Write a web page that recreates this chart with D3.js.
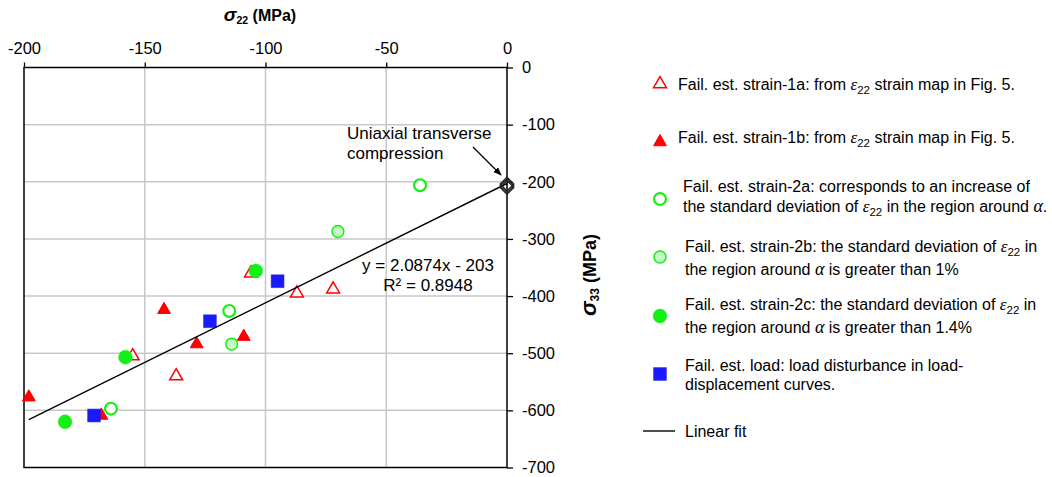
<!DOCTYPE html>
<html>
<head>
<meta charset="utf-8">
<script src="https://cdn.jsdelivr.net/npm/d3@7"></script>
<style>
  body { margin: 0; background: #fff; }
  svg text { font-family: "Liberation Sans", Arial, sans-serif; fill: #000; }
</style>
</head>
<body>
<svg id="chart" width="1052" height="477"></svg>
<script>
// data: [sigma22, sigma33] in MPa
const strain1a = [[-155, -505], [-137, -540], [-106, -360], [-87, -395], [-72, -388]];
const strain1b = [[-198, -577], [-142, -424], [-128.5, -484], [-109, -471], [-168, -609]];
const strain2a = [[-115, -426], [-164, -597], [-36, -206]];
const strain2b = [[-114, -484], [-70, -287]];
const strain2c = [[-183, -620], [-158, -507], [-104, -356]];
const loadPts = [[-171, -609], [-123, -444], [-95, -374]];
const uniaxial = [[0, -204], [0, -207], [0, -210]];
const fitSlope = 2.0874, fitIntercept = -203;
const fitRange = [-198, 0];
const xTicks = [-200, -150, -100, -50, 0];
const yTicks = [0, -100, -200, -300, -400, -500, -600, -700];
const seriesNames = [
  "Fail. est. strain-1a", "Fail. est. strain-1b", "Fail. est. strain-2a",
  "Fail. est. strain-2b", "Fail. est. strain-2c", "Fail. est. load", "Linear fit"
];

const svg = d3.select("#chart");
const x = d3.scaleLinear().domain([-200, 0]).range([24, 507]);
const y = d3.scaleLinear().domain([0, -700]).range([67.5, 467.5]);

const RED = "#ff0000", GREEN = "#14f014", LGREEN = "#c8f8c8", BLUE = "#1a1aff";

// grid
svg.append("g").selectAll("line").data(xTicks.slice(1, -1)).join("line")
  .attr("x1", d => x(d)).attr("x2", d => x(d)).attr("y1", y(0)).attr("y2", y(-700))
  .attr("stroke", "#c8c8c8").attr("stroke-width", 1.5);
svg.append("g").selectAll("line").data(yTicks.slice(1, -1)).join("line")
  .attr("x1", x(-200)).attr("x2", x(0)).attr("y1", d => y(d)).attr("y2", d => y(d))
  .attr("stroke", "#c8c8c8").attr("stroke-width", 1.5);

// frame
svg.append("rect").attr("x", x(-200)).attr("y", y(0))
  .attr("width", x(0) - x(-200)).attr("height", y(-700) - y(0))
  .attr("fill", "none").attr("stroke", "#000").attr("stroke-width", 1.5);

// axes (plain hyphen for negatives, like the original)
const fmt = d => String(d);
const topAxis = svg.append("g").attr("transform", "translate(0," + y(0) + ")")
  .call(d3.axisTop(x).tickValues(xTicks).tickFormat(fmt).tickSize(5).tickPadding(9));
const rightAxis = svg.append("g").attr("transform", "translate(" + x(0) + ",0)")
  .call(d3.axisRight(y).tickValues(yTicks).tickFormat(fmt).tickSize(6).tickPadding(9));
[topAxis, rightAxis].forEach(a => {
  a.select(".domain").remove();
  a.selectAll("line").attr("stroke-width", 1.3);
  a.selectAll("text").style("font-family", "Liberation Sans, Arial, sans-serif").style("font-size", "16.5px");
});

// axis titles
const xt = svg.append("text").attr("x", 260).attr("y", 21).attr("text-anchor", "middle")
  .style("font-size", "16px").style("font-weight", "bold");
xt.append("tspan").text("σ").style("font-style", "italic").style("font-size", "19px");
xt.append("tspan").text("22").attr("dy", 3).style("font-size", "10.5px");
xt.append("tspan").text(" (MPa)").attr("dy", -3);

const yt = svg.append("text").attr("transform", "translate(596,275) rotate(-90)")
  .attr("text-anchor", "middle")
  .style("font-size", "18px").style("font-weight", "bold");
yt.append("tspan").text("σ").style("font-style", "italic").style("font-size", "22px");
yt.append("tspan").text("33").attr("dy", 3).style("font-size", "12px");
yt.append("tspan").text(" (MPa)").attr("dy", -3);

// markers
const tri = d3.symbol().type(d3.symbolTriangle).size(72);
const circ = d3.symbol().type(d3.symbolCircle).size(150);
const circOpen = d3.symbol().type(d3.symbolCircle).size(110);
const sq = d3.symbol().type(d3.symbolSquare).size(165);
const dia = d3.symbol().type(d3.symbolDiamond2).size(120);

function plot(data, sym, fill, stroke, sw) {
  svg.append("g").selectAll("path").data(data).join("path")
    .attr("transform", d => "translate(" + x(d[0]) + "," + y(d[1]) + ")")
    .attr("d", sym)
    .attr("fill", fill).attr("stroke", stroke).attr("stroke-width", sw);
}
plot(strain1a, tri, "#fff", RED, 1.5);
plot(strain1b, tri, RED, RED, 1);
plot(strain2a, circOpen, "#fff", GREEN, 2.2);
plot(strain2b, circOpen, LGREEN, GREEN, 1.5);
plot(strain2c, circ, GREEN, GREEN, 0.5);
plot(loadPts, sq, BLUE, BLUE, 0.5);

// linear fit
svg.append("line")
  .attr("x1", x(fitRange[0])).attr("y1", y(fitSlope * fitRange[0] + fitIntercept))
  .attr("x2", x(fitRange[1])).attr("y2", y(fitSlope * fitRange[1] + fitIntercept))
  .attr("stroke", "#000").attr("stroke-width", 1.4);

// uniaxial points overlap, so only outlines show
plot(uniaxial, dia, "none", "#222", 1.3);

// equation
svg.append("text").attr("x", 428).attr("y", 271).attr("text-anchor", "middle")
  .style("font-size", "17px").text("y = 2.0874x - 203");
svg.append("text").attr("x", 428).attr("y", 291).attr("text-anchor", "middle")
  .style("font-size", "17px").text("R² = 0.8948");

// annotation + arrow
svg.append("defs").append("marker").attr("id", "arr")
  .attr("viewBox", "0 0 10 10").attr("refX", 9).attr("refY", 5)
  .attr("markerWidth", 7).attr("markerHeight", 7).attr("orient", "auto")
  .append("path").attr("d", "M0,1 L10,5 L0,9 Z").attr("fill", "#000");
svg.append("text").attr("x", 347).attr("y", 139).style("font-size", "17px").text("Uniaxial transverse");
svg.append("text").attr("x", 347).attr("y", 159).style("font-size", "17px").text("compression");
svg.append("line").attr("x1", 473).attr("y1", 147).attr("x2", 501).attr("y2", 175)
  .attr("stroke", "#000").attr("stroke-width", 1.2).attr("marker-end", "url(#arr)");

// legend
const eps = t => t.append("tspan").text("ε").style("font-family", "Liberation Serif, serif").style("font-style", "italic").style("font-size", "17px");
const sub = (t, s) => t.append("tspan").text(s).attr("dy", 4).style("font-size", "11.5px");
const up = (t, s) => t.append("tspan").text(s).attr("dy", -4);
const alpha = t => t.append("tspan").text("α").style("font-family", "Liberation Serif, serif").style("font-style", "italic").style("font-size", "18px");

function ltext(xp, yp) {
  return svg.append("text").attr("x", xp).attr("y", yp + 5.5).style("font-size", "16px");
}
const lg = svg.append("g");
const lsym = [[tri, "#fff", RED, 1.5, 84], [tri, RED, RED, 1, 142], [circOpen, "#fff", GREEN, 2.2, 199],
  [circOpen, LGREEN, GREEN, 1.5, 257], [circ, GREEN, GREEN, 0.5, 316], [sq, BLUE, BLUE, 0.5, 374]];
lsym.forEach(s => {
  lg.append("path").attr("transform", "translate(660," + s[4] + ")").attr("d", s[0])
    .attr("fill", s[1]).attr("stroke", s[2]).attr("stroke-width", s[3]);
});
lg.append("line").attr("x1", 643).attr("x2", 675).attr("y1", 431).attr("y2", 431)
  .attr("stroke", "#000").attr("stroke-width", 1.4);

let t = ltext(678, 84); t.append("tspan").text(seriesNames[0] + ": from "); eps(t); sub(t, "22"); up(t, " strain map in Fig. 5.");
t = ltext(678, 137); t.append("tspan").text(seriesNames[1] + ": from "); eps(t); sub(t, "22"); up(t, " strain map in Fig. 5.");
ltext(683, 186).text(seriesNames[2] + ": corresponds to an increase of");
t = ltext(683, 206); t.append("tspan").text("the standard deviation of "); eps(t); sub(t, "22"); up(t, " in the region around "); alpha(t); t.append("tspan").text(".");
t = ltext(685, 246); t.append("tspan").text(seriesNames[3] + ": the standard deviation of "); eps(t); sub(t, "22"); up(t, " in");
t = ltext(685, 269); t.append("tspan").text("the region around "); alpha(t); t.append("tspan").text(" is greater than 1%");
t = ltext(685, 304); t.append("tspan").text(seriesNames[4] + ": the standard deviation of "); eps(t); sub(t, "22"); up(t, " in");
t = ltext(685, 327); t.append("tspan").text("the region around "); alpha(t); t.append("tspan").text(" is greater than 1.4%");
ltext(685, 365).text(seriesNames[5] + ": load disturbance in load-");
ltext(685, 384).text("displacement curves.");
ltext(685, 431).text(seriesNames[6]);
</script>
</body>
</html>
